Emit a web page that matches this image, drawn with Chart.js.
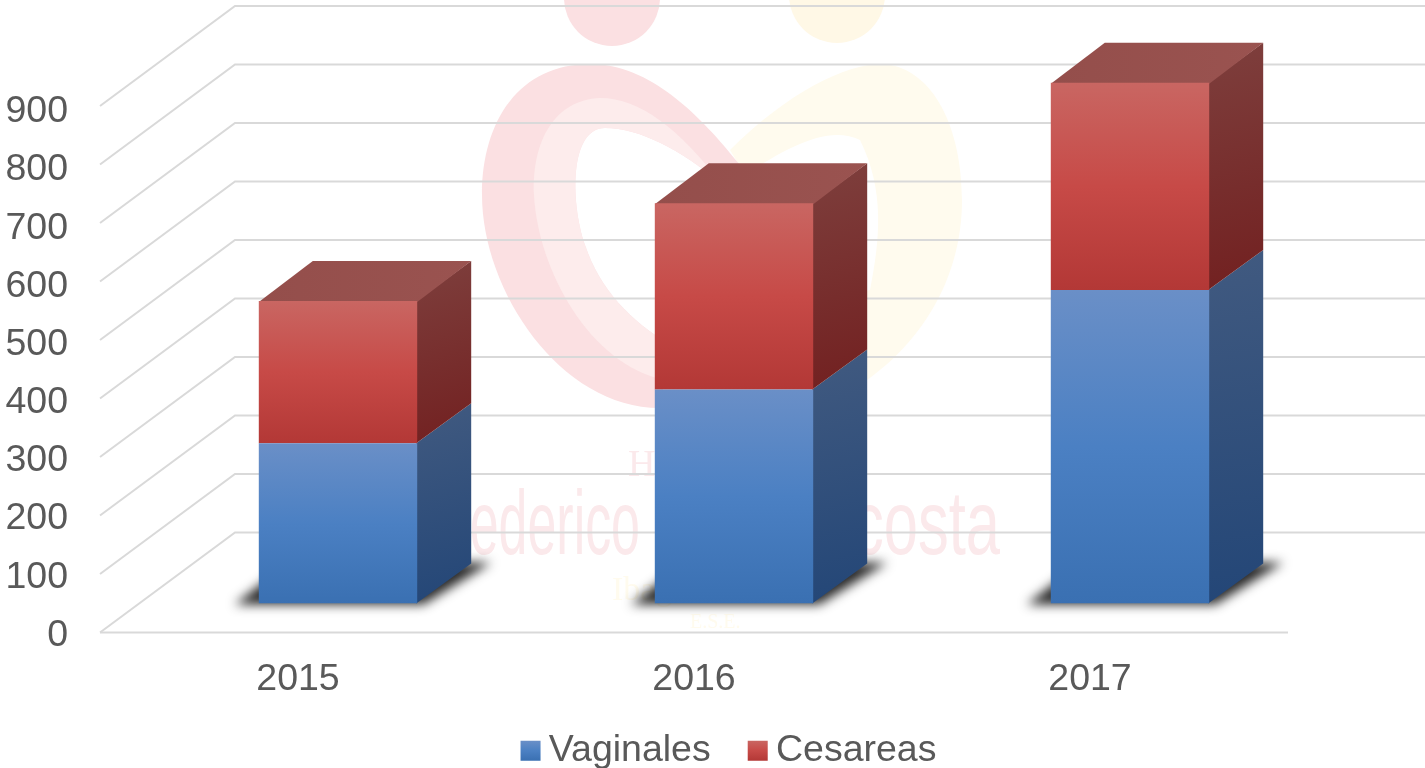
<!DOCTYPE html>
<html><head><meta charset="utf-8">
<script src="https://cdn.jsdelivr.net/npm/chart.js@4"></script>
<style>html,body{margin:0;background:#fff}canvas{display:block}</style>
</head><body><canvas id="c" width="1425" height="768"></canvas>
<script>
const categories = ['2015','2016','2017'];
const vaginales = [274,366,536];
const cesareas = [243,318,354];
const yTickValues = [0,100,200,300,400,500,600,700,800,900];
const yMax = 900, yStep = 100;
const labelAxisMax = 905;
const FONT = '"Liberation Sans", Arial, sans-serif';
const TXT = '#595959';
const FS = 37.5;
// projection of the 3D box, in pixels
const FRONT = {dx:-40, dy:29}, BACK = {dx:95, dy:-71}, BAR = {dx:54, dy:-40};
const LEGEND_CX = 728.5, LEGEND_TOP = 695;
const BLUE = {front:['#6a8fc7','#4b80c3','#3a70b2'], sideA:'#415a80', sideB:'#234677', topA:'#3c5f8f', topB:'#41669a'};
const RED  = {front:['#c96662','#c74a47','#b33836'], sideA:'#7e3f3d', sideB:'#722020', topA:'#944e4b', topB:'#9a5350'};

function vGrad(ctx,y0,y1,cols){
  const g=ctx.createLinearGradient(0,y0,0,y1);
  g.addColorStop(0,cols[0]);g.addColorStop(.5,cols[1]);g.addColorStop(1,cols[2]);return g;
}
function frontFill(pal,low,high){
  return c=>{
    if(c.dataIndex===undefined||!c.chart.scales.y) return pal.front[1];
    const y=c.chart.scales.y, i=c.dataIndex;
    return vGrad(c.chart.ctx,y.getPixelForValue(high(i)),y.getPixelForValue(low(i)),pal.front);
  };
}
function poly(ctx,pts){ctx.beginPath();pts.forEach((p,i)=>i?ctx.lineTo(p[0],p[1]):ctx.moveTo(p[0],p[1]));ctx.closePath();}

const watermark = {id:'watermark',beforeDraw(chart){
  const ctx=chart.ctx;ctx.save();
  ctx.fillStyle='#fff';ctx.fillRect(0,0,chart.width,chart.height);
  // heads
  ctx.fillStyle='#fbe0e2';ctx.beginPath();ctx.arc(612,-2,48,0,Math.PI*2);ctx.fill();
  ctx.fillStyle='#fff8e6';ctx.beginPath();ctx.arc(837,-5,48,0,Math.PI*2);ctx.fill();
  // yellow half heart
  ctx.fillStyle='#fffbee';ctx.beginPath();
  ctx.moveTo(730,150);ctx.bezierCurveTo(790,90,850,62,885,64);
  ctx.bezierCurveTo(935,70,962,130,962,200);ctx.bezierCurveTo(962,280,920,345,860,385);
  ctx.lineTo(820,385);ctx.lineTo(820,300);ctx.lineTo(870,290);
  ctx.bezierCurveTo(880,240,885,190,860,140);ctx.bezierCurveTo(830,125,790,145,745,175);ctx.closePath();ctx.fill();
  // pink half heart
  ctx.fillStyle='#fbe0e2';ctx.beginPath();
  ctx.moveTo(740,165);ctx.bezierCurveTo(700,115,650,64,590,64);
  ctx.bezierCurveTo(520,64,482,120,482,195);ctx.bezierCurveTo(482,290,560,408,660,408);
  ctx.lineTo(670,345);ctx.bezierCurveTo(630,320,600,290,585,245);
  ctx.bezierCurveTo(570,200,570,128,605,128);ctx.bezierCurveTo(640,128,680,150,720,182);ctx.closePath();ctx.fill();
  ctx.fillStyle='#fdecec';ctx.beginPath();
  ctx.moveTo(720,182);ctx.bezierCurveTo(680,130,640,98,600,98);
  ctx.bezierCurveTo(555,100,532,140,534,195);ctx.bezierCurveTo(538,270,590,365,665,380);
  ctx.lineTo(670,345);ctx.bezierCurveTo(630,320,600,290,585,245);
  ctx.bezierCurveTo(570,200,570,128,605,128);ctx.bezierCurveTo(640,128,680,150,720,182);ctx.closePath();ctx.fill();
  // faded logo text
  ctx.textBaseline='alphabetic';ctx.textAlign='left';
  ctx.fillStyle='#fbe9eb';
  ctx.font='90px '+FONT;
  ctx.fillText('Federico',438,554,202);
  ctx.fillText('Lleras',660,554,140);
  ctx.fillText('Acosta',812,554,188);
  ctx.font='38px "Liberation Serif", serif';
  ctx.fillText('Hospital',628,476);
  ctx.fillStyle='#fffbee';
  ctx.font='34px "Liberation Serif", serif';
  ctx.fillText('Ibagué',612,600);
  ctx.font='20px "Liberation Serif", serif';
  ctx.fillText('E.S.E.',690,628);
  ctx.restore();
}};

const walls = {id:'walls',beforeDatasetsDraw(chart){
  const ctx=chart.ctx,y=chart.scales.y,a=chart.chartArea;
  ctx.save();ctx.strokeStyle='#d9d9d9';ctx.lineWidth=2;
  y.ticks.forEach(t=>{
    const p=y.getPixelForValue(t.value);
    ctx.beginPath();
    ctx.moveTo(a.left+FRONT.dx,p+FRONT.dy);
    ctx.lineTo(a.left+BACK.dx,p+BACK.dy);
    ctx.lineTo(chart.width,p+BACK.dy);
    ctx.stroke();
  });
  const p0=y.getPixelForValue(0);
  ctx.beginPath();ctx.moveTo(a.left+FRONT.dx,p0+FRONT.dy);ctx.lineTo(a.right+FRONT.dx,p0+FRONT.dy);ctx.stroke();
  ctx.restore();
}};

const box3d = {id:'box3d',beforeDatasetsDraw(chart){
  const ctx=chart.ctx;
  const m0=chart.getDatasetMeta(0).data, m1=chart.getDatasetMeta(1).data;
  const faces=(el,pal,withTop)=>{
    const l=el.x-el.width/2,r=el.x+el.width/2,t=el.y,b=el.base,dx=BAR.dx,dy=BAR.dy;
    const g=ctx.createLinearGradient(r,t+dy,r+dx,b);
    g.addColorStop(0,pal.sideA);g.addColorStop(1,pal.sideB);
    ctx.fillStyle=g;poly(ctx,[[r-1,t],[r+dx,t+dy],[r+dx,b+dy],[r-1,b]]);ctx.fill();
    if(withTop){
      const h=ctx.createLinearGradient(l,0,r+dx,0);
      h.addColorStop(0,pal.topA);h.addColorStop(1,pal.topB);
      ctx.fillStyle=h;poly(ctx,[[l,t+1],[l+dx,t+dy],[r+dx,t+dy],[r,t+1]]);ctx.fill();
    }
  };
  ctx.save();
  m0.forEach(el=>{
    const l=el.x-el.width/2,r=el.x+el.width/2,b=el.base,off=3000;
    ctx.save();ctx.shadowColor='#2a2a2a';ctx.shadowBlur=11;ctx.shadowOffsetX=off;ctx.fillStyle='#000';
    poly(ctx,[[l-24-off,b+1],[r+6-off,b+1],[r+74-off,b-41],[l+30-off,b-41]]);ctx.fill();ctx.restore();
  });
  m0.forEach(el=>faces(el,BLUE,false));
  m1.forEach(el=>faces(el,RED,true));
  ctx.restore();
}};

const legendPlace = {id:'legendPlace',afterLayout(chart){
  const lg=chart.legend,h=lg.bottom-lg.top,shift=LEGEND_CX-(lg.left+lg.right)/2;
  lg.left+=shift;lg.right+=shift;lg.top=LEGEND_TOP;lg.bottom=LEGEND_TOP+h;
},afterDraw(chart){
  const ctx=chart.ctx,boxes=chart.legend.legendHitBoxes;
  [BLUE,RED].forEach((pal,i)=>{
    const b=boxes[i],t=b.top+b.height/2-10;
    ctx.fillStyle=vGrad(ctx,t,t+20,pal.front);
    ctx.fillRect(b.left,t,20,20);
  });
}};

new Chart(document.getElementById('c'),{
  type:'bar',
  data:{labels:categories,datasets:[
    {label:'Vaginales',data:vaginales,stack:'s',backgroundColor:frontFill(BLUE,()=>0,i=>vaginales[i]),borderWidth:0},
    {label:'Cesareas',data:cesareas,stack:'s',backgroundColor:frontFill(RED,i=>vaginales[i],i=>vaginales[i]+cesareas[i]),borderWidth:0}
  ]},
  plugins:[watermark,walls,box3d,legendPlace],
  options:{
    responsive:false,animation:false,
    layout:{padding:{left:0,right:97,top:77,bottom:-20}},
    datasets:{bar:{categoryPercentage:1,barPercentage:0.4}},
    plugins:{
      tooltip:{enabled:false},title:{display:false},
      legend:{position:'bottom',align:'center',labels:{
        font:{family:FONT,size:FS},color:TXT,padding:37,boxWidth:9.5,boxHeight:20,
        generateLabels:c=>c.data.datasets.map((d,i)=>({text:d.label,fillStyle:'rgba(0,0,0,0)',strokeStyle:'rgba(0,0,0,0)',lineWidth:0,fontColor:TXT,datasetIndex:i}))
      }}
    },
    scales:{
      x:{stacked:true,grid:{display:false,drawTicks:false},border:{display:false},
        afterFit(s){s.height=100;s.paddingLeft=0;s.paddingRight=0;},
        ticks:{font:{family:FONT,size:FS},color:TXT,padding:54,labelOffset:FRONT.dx,maxRotation:0,autoSkip:false}},
      y:{display:false,stacked:true,min:0,max:yMax,ticks:{stepSize:yStep}},
      yLabels:{type:'linear',position:'left',min:0,max:labelAxisMax,grid:{display:false,drawTicks:false},border:{display:false},
        afterBuildTicks(s){s.ticks=yTickValues.map(v=>({value:v}));},
        afterFit(s){s.width=140;s.paddingTop=0;s.paddingBottom=0;},
        ticks:{callback:v=>String(v),font:{family:FONT,size:FS},color:TXT,padding:72,labelOffset:32}}
    }
  }
});
</script></body></html>
